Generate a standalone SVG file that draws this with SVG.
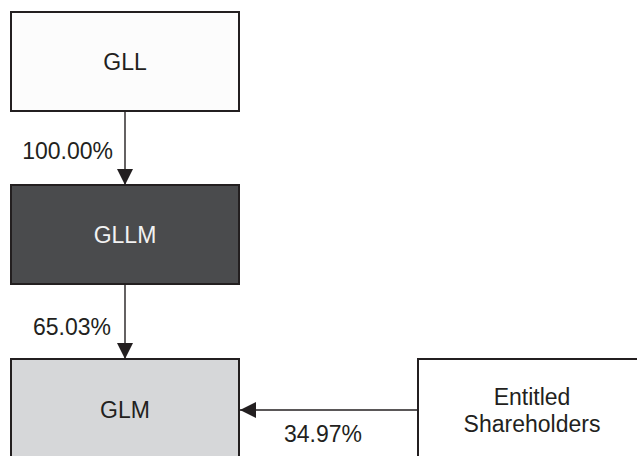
<svg xmlns="http://www.w3.org/2000/svg" width="637" height="456" viewBox="0 0 637 456">
<defs>
<style>
.box{stroke:#231f20;stroke-width:2}
.t{font-family:"Liberation Sans",Arial,sans-serif;font-size:23px;text-anchor:middle;fill:#231f20}
.c{stroke:#231f20;stroke-width:1.4;fill:none}
</style>
<marker id="ah" markerUnits="userSpaceOnUse" markerWidth="16" markerHeight="16" viewBox="0 0 16 16" refX="16" refY="8" orient="auto">
<path d="M0,0 L16,8 L0,16 Z" fill="#231f20"/>
</marker>
</defs>
<rect width="637" height="456" fill="#ffffff"/>
<g id="GLL">
<rect class="box" x="11" y="12" width="228" height="99" fill="#fcfcfc"/>
<text class="t" x="125" y="70">GLL</text>
</g>
<g id="GLLM">
<rect class="box" x="11" y="185" width="228" height="99" fill="#4a4b4d"/>
<text class="t" x="125" y="243" fill="#ffffff" style="fill:#f2f2f2">GLLM</text>
</g>
<g id="GLM">
<rect class="box" x="11" y="359" width="228" height="110" fill="#d6d7d9"/>
<text class="t" x="125" y="418">GLM</text>
</g>
<g id="Entitled">
<rect class="box" x="418" y="359" width="230" height="110" fill="#ffffff"/>
<text class="t" x="532" y="405">Entitled</text>
<text class="t" x="532" y="432">Shareholders</text>
</g>
<g id="connectors">
<line class="c" x1="125" y1="111" x2="125" y2="185" marker-end="url(#ah)"/>
<line class="c" x1="125" y1="284" x2="125" y2="359" marker-end="url(#ah)"/>
<line class="c" x1="418" y1="410" x2="240" y2="410" marker-end="url(#ah)"/>
<text class="t" x="113" y="159" text-anchor="end" style="text-anchor:end">100.00%</text>
<text class="t" x="111" y="335" style="text-anchor:end">65.03%</text>
<text class="t" x="323" y="442">34.97%</text>
</g>
</svg>
